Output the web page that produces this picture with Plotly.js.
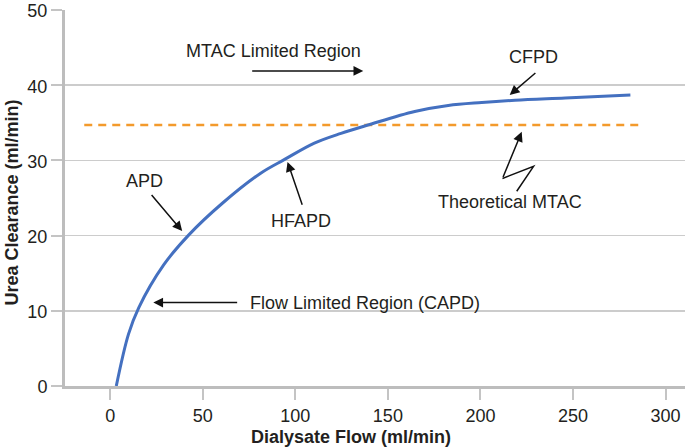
<!DOCTYPE html>
<html>
<head>
<meta charset="utf-8">
<script src="https://cdn.plot.ly/plotly-3.0.1.min.js"></script>
<style>html,body{margin:0;padding:0;background:#fff;}#chart{width:685px;height:448px;}</style>
</head>
<body>
<div id="chart"></div>
<script>
// Dialysate flow (ml/min) and urea clearance (ml/min)
const dialysateFlow = [3.3, 9.9, 15.4, 28.9, 42.5, 60.6, 81.3, 94, 110.3, 124.7, 139.2, 164.5, 182.6, 200.7, 218.7, 245.8, 281];
const ureaClearance = [0, 6.9, 10.4, 16.1, 20.1, 24.3, 28.3, 30.1, 32.3, 33.6, 34.7, 36.5, 37.3, 37.7, 38.0, 38.3, 38.7];
// Theoretical MTAC line
const mtacFlow = [-14, 286];
const mtacValue = [34.7, 34.7];
const xTicks = [0, 50, 100, 150, 200, 250, 300];
const yTicks = [0, 10, 20, 30, 40, 50];
const xTitle = 'Dialysate Flow (ml/min)';
const yTitle = 'Urea Clearance (ml/min)';

const FONT = 'Liberation Sans, Arial, Helvetica, sans-serif';
const TXT = '#231f20';
const FS = 18;

const traces = [
  {x: mtacFlow, y: mtacValue, mode: 'lines', line: {color: '#f39a2c', width: 2.5, dash: '8px,6px'}, hoverinfo: 'skip'},
  {x: dialysateFlow, y: ureaClearance, mode: 'lines', line: {color: '#4470c0', width: 3, shape: 'spline', smoothing: 1}, hoverinfo: 'skip'}
];

function arrow(x, y, ax, ay) {
  return {x: x, y: y, ax: ax, ay: ay, xref: 'x', yref: 'y', axref: 'x', ayref: 'y',
    text: '', showarrow: true, arrowhead: 2, arrowsize: 1.3, arrowwidth: 1.5, arrowcolor: '#111', standoff: 0, startstandoff: 0};
}
function label(x, y, t, anchor) {
  return {x: x, y: y, xref: 'x', yref: 'y', text: t, showarrow: false, xanchor: anchor || 'center', yanchor: 'middle',
    font: {family: FONT, size: FS, color: TXT}};
}

const layout = {
  width: 685, height: 448,
  margin: {l: 65, r: 0, t: 10, b: 62},
  paper_bgcolor: '#fff', plot_bgcolor: '#fff',
  showlegend: false,
  font: {family: FONT, size: FS, color: TXT},
  xaxis: {
    range: [-24.4, 310.5], tickvals: xTicks, ticktext: xTicks.map(String),
    showgrid: false, zeroline: false, showline: true, linecolor: '#bdbdbd', linewidth: 3,
    ticks: 'outside', ticklen: 11, tickwidth: 2, tickcolor: '#c4c4c4',
    tickfont: {family: FONT, size: FS, color: TXT}, ticklabeloverflow: 'allow'
  },
  yaxis: {
    range: [0, 50], tickvals: yTicks, ticktext: yTicks.map(String),
    showgrid: true, gridcolor: '#cccccc', gridwidth: 1.5, zeroline: false,
    showline: true, linecolor: '#bdbdbd', linewidth: 3,
    ticks: 'outside', ticklen: 11, tickwidth: 2, tickcolor: '#c4c4c4',
    tickfont: {family: FONT, size: FS, color: TXT}, ticklabeloverflow: 'allow', ticklabelshift: 1
  },
  shapes: [
    {type: 'path', xref: 'x', yref: 'y', path: 'M 219.6 25.9 L 228.7 29.2 L 211.9 27.6', line: {color: '#111', width: 1.5}}
  ],
  annotations: [
    {xref: 'paper', yref: 'paper', x: 0.4613, y: -0.135, xanchor: 'center', yanchor: 'middle', showarrow: false,
      text: '<b>' + xTitle + '</b>', font: {family: FONT, size: FS, color: TXT}},
    {xref: 'paper', yref: 'paper', x: -0.087, y: 0.488, xanchor: 'center', yanchor: 'middle', showarrow: false, textangle: -90,
      text: '<b>' + yTitle + '</b>', font: {family: FONT, size: FS, color: TXT}},
    label(88.4, 44.6, 'MTAC Limited Region'),
    arrow(136.7, 41.9, 75.9, 41.9),
    label(228.7, 43.8, 'CFPD'),
    arrow(215.8, 38.7, 230.5, 41.8),
    label(215.8, 24.5, 'Theoretical MTAC'),
    arrow(222.3, 33.8, 211.9, 27.6),
    label(103, 22.0, 'HFAPD'),
    arrow(95.8, 29.8, 104, 23.9),
    label(18.7, 27.3, 'APD'),
    arrow(38.9, 20.6, 21.7, 25.6),
    label(74.3, 11.1, 'Flow Limited Region (CAPD)', 'left'),
    arrow(23.3, 11.1, 69.4, 11.1)
  ]
};

Plotly.newPlot('chart', traces, layout, {displayModeBar: false, staticPlot: true});
</script>
</body>
</html>
